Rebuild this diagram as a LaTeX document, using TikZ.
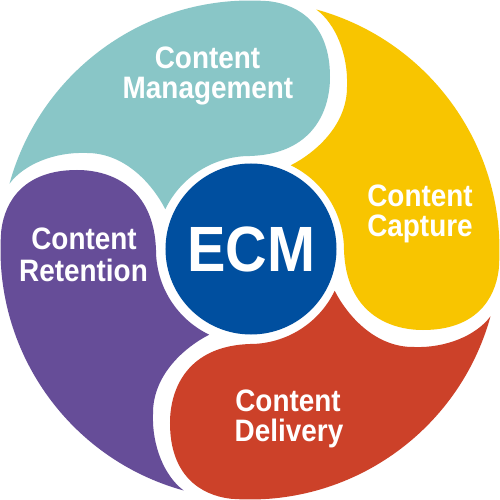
\documentclass[tikz,border=0pt]{standalone}
\usepackage{fontspec}
\setmainfont{Liberation Sans}[FakeStretch=0.9]
\definecolor{tealc}{RGB}{137,198,199}
\definecolor{yellowc}{RGB}{248,197,0}
\definecolor{redc}{RGB}{204,65,41}
\definecolor{purplec}{RGB}{102,77,152}
\definecolor{bluec}{RGB}{0,79,159}
\newcommand\petalshape{(164.6:249.5pt) arc[start angle=164.6,end angle=85.5,radius=249.5pt]
  .. controls (50,245) and (80,225) .. (80,173)
  .. controls (80,138) and (62,96) .. (0,94)
  arc[start angle=90,end angle=154.3,radius=94pt]
  .. controls (-97,65) and (-125,98) .. (-165,97)
  .. controls (-195,98) and (-226,86) .. (164.6:249.5pt) -- cycle}
\tikzset{
  lbl/.style={text=white, font=\bfseries\fontsize{31}{31}\selectfont, inner sep=0pt, anchor=base},
  hub/.style={circle, fill=bluec, minimum size=171pt, inner sep=0pt, text=white, font=\bfseries\fontsize{64}{64}\selectfont}
}
\begin{document}
\begin{tikzpicture}[x=1pt,y=1pt]
\useasboundingbox (-250,-250) rectangle (250,250);
\fill[white] (-250,-250) rectangle (250,250);
\fill[tealc] \petalshape;
\begin{scope}[rotate=-90]\fill[yellowc] \petalshape;\end{scope}
\begin{scope}[rotate=-180]\fill[redc] \petalshape;\end{scope}
\begin{scope}[rotate=-270]\fill[purplec] \petalshape;\end{scope}
\node[hub] (ecm) at (1,1) {ECM};
\node[lbl] (cm1) at (-42.5,181.7) {Content};
\node[lbl] (cm2) at (-42,151.7) {Management};
\node[lbl] (cc1) at (170,43.3) {Content};
\node[lbl] (cc2) at (170,13.3) {Capture};
\node[lbl] (cd1) at (38,-161.7) {Content};
\node[lbl] (cd2) at (39,-191.7) {Delivery};
\node[lbl] (cr1) at (-166,0) {Content};
\node[lbl] (cr2) at (-166.5,-31.7) {Retention};
\end{tikzpicture}
\end{document}
